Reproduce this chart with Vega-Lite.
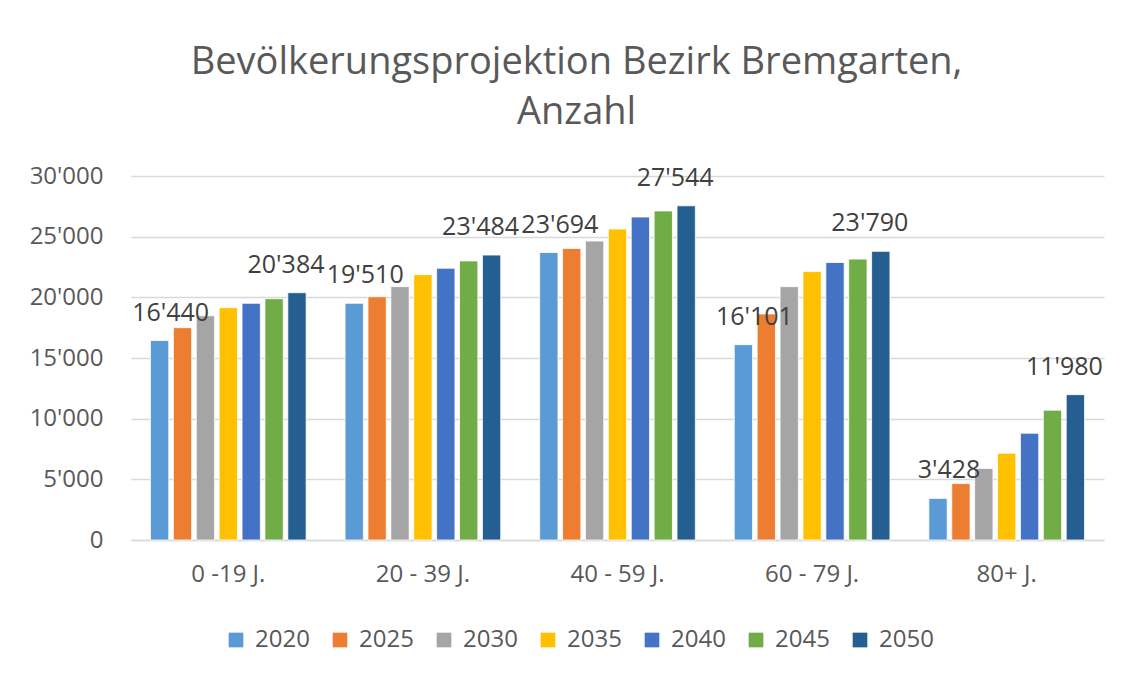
{
  "$schema": "https://vega.github.io/schema/vega-lite/v6.json",
  "width": 973,
  "height": 364,
  "autosize": {"type": "none"},
  "padding": {"left": 131, "top": 176, "right": 29, "bottom": 144},
  "background": "white",
  "config": {
    "locale": {"number": {"decimal": ".", "thousands": "'", "grouping": [3], "currency": ["", ""]}},
    "font": "Open Sans",
    "view": {"stroke": null}
  },
  "title": {
    "text": ["Bevölkerungsprojektion  Bezirk Bremgarten,", "Anzahl"],
    "fontSize": 38,
    "font": "Open Sans",
    "fontWeight": "normal",
    "color": "#595959",
    "anchor": "middle",
    "frame": "bounds",
    "lineHeight": 50,
    "offset": 32,
    "dx": 10
  },
  "data": {
    "values": [
      {"group": "0 -19 J.", "year": "2020", "value": 16440},
      {"group": "0 -19 J.", "year": "2025", "value": 17500},
      {"group": "0 -19 J.", "year": "2030", "value": 18480},
      {"group": "0 -19 J.", "year": "2035", "value": 19150},
      {"group": "0 -19 J.", "year": "2040", "value": 19510},
      {"group": "0 -19 J.", "year": "2045", "value": 19890},
      {"group": "0 -19 J.", "year": "2050", "value": 20384},
      {"group": "20 - 39 J.", "year": "2020", "value": 19510},
      {"group": "20 - 39 J.", "year": "2025", "value": 20050},
      {"group": "20 - 39 J.", "year": "2030", "value": 20880},
      {"group": "20 - 39 J.", "year": "2035", "value": 21870},
      {"group": "20 - 39 J.", "year": "2040", "value": 22400},
      {"group": "20 - 39 J.", "year": "2045", "value": 23000},
      {"group": "20 - 39 J.", "year": "2050", "value": 23484},
      {"group": "40 - 59 J.", "year": "2020", "value": 23694},
      {"group": "40 - 59 J.", "year": "2025", "value": 24030},
      {"group": "40 - 59 J.", "year": "2030", "value": 24640},
      {"group": "40 - 59 J.", "year": "2035", "value": 25630},
      {"group": "40 - 59 J.", "year": "2040", "value": 26620},
      {"group": "40 - 59 J.", "year": "2045", "value": 27120},
      {"group": "40 - 59 J.", "year": "2050", "value": 27544},
      {"group": "60 - 79 J.", "year": "2020", "value": 16101},
      {"group": "60 - 79 J.", "year": "2025", "value": 18630},
      {"group": "60 - 79 J.", "year": "2030", "value": 20880},
      {"group": "60 - 79 J.", "year": "2035", "value": 22120},
      {"group": "60 - 79 J.", "year": "2040", "value": 22870},
      {"group": "60 - 79 J.", "year": "2045", "value": 23150},
      {"group": "60 - 79 J.", "year": "2050", "value": 23790},
      {"group": "80+ J.", "year": "2020", "value": 3428},
      {"group": "80+ J.", "year": "2025", "value": 4650},
      {"group": "80+ J.", "year": "2030", "value": 5900},
      {"group": "80+ J.", "year": "2035", "value": 7150},
      {"group": "80+ J.", "year": "2040", "value": 8800},
      {"group": "80+ J.", "year": "2045", "value": 10700},
      {"group": "80+ J.", "year": "2050", "value": 11980}
    ]
  },
  "encoding": {
    "x": {
      "field": "group",
      "type": "nominal",
      "sort": null,
      "title": null,
      "scale": {"paddingInner": 0.2, "paddingOuter": 0.1},
      "axis": {
        "labelAngle": 0,
        "labelFontSize": 24,
        "labelColor": "#595959",
        "labelPadding": 22,
        "ticks": false,
        "domainColor": "#d9d9d9",
        "domainWidth": 1.5
      }
    },
    "xOffset": {"field": "year", "type": "nominal", "scale": {"paddingInner": 0.2}},
    "y": {
      "field": "value",
      "type": "quantitative",
      "title": null,
      "scale": {"domain": [0, 30000]},
      "axis": {
        "values": [0, 5000, 10000, 15000, 20000, 25000, 30000],
        "format": ",d",
        "labelFontSize": 24,
        "labelColor": "#595959",
        "labelPadding": 28,
        "ticks": false,
        "domain": false,
        "gridColor": "#d9d9d9",
        "gridWidth": 1.5
      }
    }
  },
  "layer": [
    {
      "mark": {"type": "bar", "stroke": "white", "strokeWidth": 0.8},
      "encoding": {
        "color": {
          "field": "year",
          "type": "nominal",
          "scale": {
            "domain": ["2020", "2025", "2030", "2035", "2040", "2045", "2050"],
            "range": ["#5B9BD5", "#ED7D31", "#A5A5A5", "#FFC000", "#4472C4", "#70AD47", "#255E91"]
          },
          "legend": {
            "orient": "none",
            "legendX": 93,
            "legendY": 452,
            "direction": "horizontal",
            "title": null,
            "symbolType": "square",
            "symbolSize": 216,
            "symbolStrokeWidth": 0,
            "labelFontSize": 24,
            "labelColor": "#595959",
            "columnPadding": 18,
            "labelOffset": 7
          }
        }
      }
    },
    {
      "transform": [{"filter": "datum.year == '2020'"}],
      "mark": {"type": "text", "baseline": "middle", "dy": -28, "dx": 11, "fontSize": 25, "color": "#404040"},
      "encoding": {
        "text": {"field": "value", "type": "quantitative", "format": ",d"}
      }
    },
    {
      "transform": [{"filter": "datum.year == '2050'"}],
      "mark": {"type": "text", "baseline": "middle", "dy": -28, "dx": -11, "fontSize": 25, "color": "#404040"},
      "encoding": {
        "text": {"field": "value", "type": "quantitative", "format": ",d"}
      }
    }
  ]
}
